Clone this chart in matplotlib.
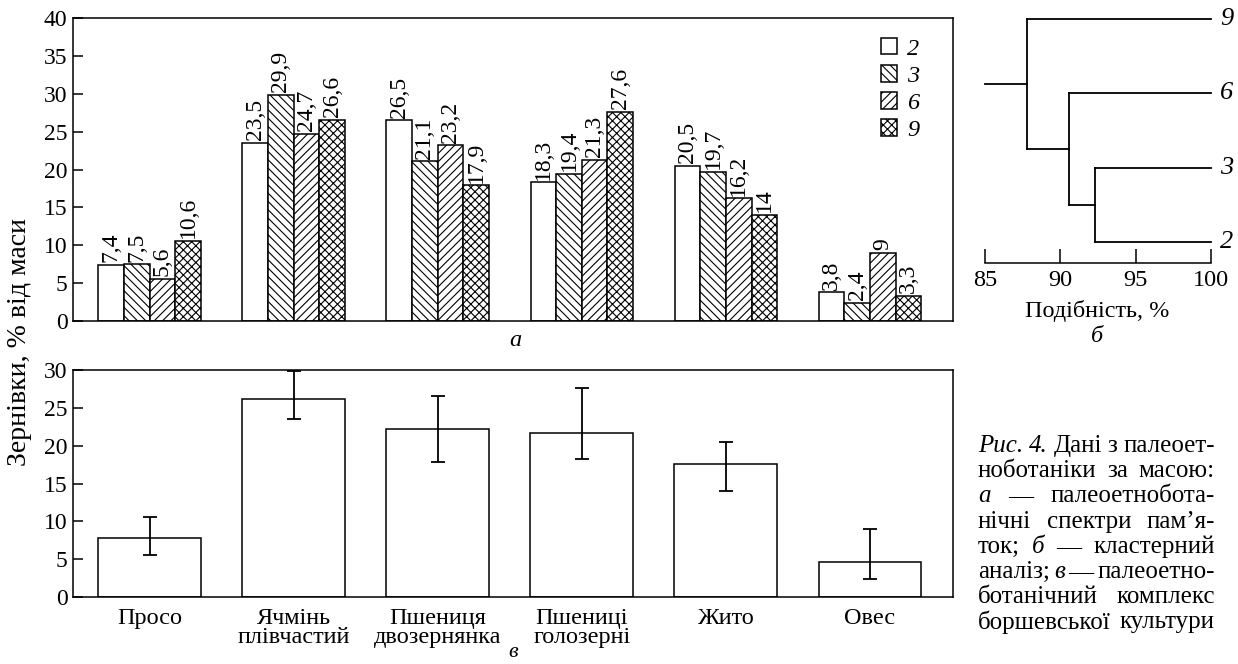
import numpy as np
import matplotlib
matplotlib.use('Agg')
import matplotlib.pyplot as plt

plt.rcParams['font.family'] = ['Liberation Serif', 'DejaVu Serif']
plt.rcParams['hatch.linewidth'] = 0.8
plt.rcParams['hatch.color'] = 'black'

crops = ['Просо', 'Ячмінь\nплівчастий', 'Пшениця\nдвозернянка',
         'Пшениці\nголозерні', 'Жито', 'Овес']
sites = ['2', '3', '6', '9']
s2 = [7.4, 23.5, 26.5, 18.3, 20.5, 3.8]
s3 = [7.5, 29.9, 21.1, 19.4, 19.7, 2.4]
s6 = [5.6, 24.7, 23.2, 21.3, 16.2, 9.0]
s9 = [10.6, 26.6, 17.9, 27.6, 14.0, 3.3]
hatches = ['', '\\\\\\\\', '////', 'xxxx']

mean_val = [7.8, 26.2, 22.2, 21.7, 17.6, 4.6]
min_val = [5.6, 23.5, 17.9, 18.3, 14.0, 2.4]
max_val = [10.6, 29.9, 26.5, 27.6, 20.5, 9.0]

leaves = ['9', '6', '3', '2']
# (left node, right node, similarity %)
merges = [('3', '2', 92.3), ('6', 'A', 90.6), ('9', 'B', 87.8)]

W, H = 1238, 664
fig = plt.figure(figsize=(W / 100, H / 100), dpi=100)

def box(l, t, r, b):
    return [l / W, 1 - b / H, (r - l) / W, (b - t) / H]

fs = 17.5
tfs = 17
lw = 1.1

# --- a ---
ax = fig.add_axes(box(73, 18, 953, 321))
x = np.arange(len(crops))
bw = 0.178
series = [s2, s3, s6, s9]
for k, vals in enumerate(series):
    pos = x + (k - 1.5) * bw
    bars = ax.bar(pos, vals, bw, color='white', edgecolor='black',
                  hatch=hatches[k], linewidth=lw, label=sites[k], zorder=2)
    for p, v in zip(pos, vals):
        ax.text(p, v + 0.35, f'{v:g}'.replace('.', ','), rotation=90,
                ha='center', va='bottom', fontsize=17)
ax.set_xlim(-0.531, 5.576)
ax.set_ylim(0, 40)
ax.set_yticks(range(0, 41, 5))
ax.set_xticks([])
ax.tick_params(axis='y', direction='in', length=7, width=lw, labelsize=tfs, pad=4)
for sp in ax.spines.values():
    sp.set_linewidth(lw)
leg = ax.legend(loc='upper left', bbox_to_anchor=(0.918, 0.935), frameon=False,
                fontsize=fs, handlelength=0.68, handleheight=0.68,
                handletextpad=0.4, labelspacing=0.22, borderpad=0, borderaxespad=0)
for t in leg.get_texts():
    t.set_fontstyle('italic')
fig.text(515 / W, 1 - 341 / H, 'а', style='italic', fontsize=fs, ha='center', va='center')

# --- в ---
ax2 = fig.add_axes(box(73, 370, 953, 597))
yerr = [np.array(mean_val) - np.array(min_val), np.array(max_val) - np.array(mean_val)]
ax2.bar(x, mean_val, 0.714, color='white', edgecolor='black', linewidth=lw,
        yerr=yerr, capsize=5, error_kw=dict(elinewidth=1.3, capthick=1.3, ecolor='black'))
ax2.set_xlim(-0.531, 5.576)
ax2.set_ylim(0, 30)
ax2.set_yticks(range(0, 31, 5))
ax2.set_xticks(x, crops)
ax2.tick_params(axis='y', direction='in', length=7, width=lw, labelsize=tfs, pad=4)
ax2.tick_params(axis='x', length=0, labelsize=fs, pad=8)
for t in ax2.get_xticklabels():
    t.set_linespacing(0.85)
for sp in ax2.spines.values():
    sp.set_linewidth(lw)
fig.text(513 / W, 2 / H, 'в', style='italic', fontsize=16, ha='center', va='bottom')

fig.text(20 / W, 1 - 342 / H, 'Зернівки, % від маси', rotation=90, fontsize=20,
         ha='center', va='center')

# --- б ---
ax3 = fig.add_axes(box(985, 10, 1211, 263))
ypos = {name: len(leaves) - 1 - i for i, name in enumerate(leaves)}
xpos = {name: 100.0 for name in leaves}
for n, (a, b, s) in enumerate(merges):
    for node in (a, b):
        ax3.plot([s, xpos[node]], [ypos[node]] * 2, color='black', lw=1.3, clip_on=False)
    ax3.plot([s, s], [ypos[a], ypos[b]], color='black', lw=1.3, clip_on=False)
    new = 'ABC'[n]
    xpos[new] = s
    ypos[new] = (ypos[a] + ypos[b]) / 2
ax3.plot([85, xpos['C']], [ypos['C']] * 2, color='black', lw=1.3, clip_on=False)
for name in leaves:
    ax3.text(100.6, ypos[name], name, style='italic', fontsize=19, va='center', ha='left')
ax3.set_xlim(85, 100)
ax3.set_ylim(-0.283, 3.12)
ax3.set_yticks([])
ax3.set_xticks([85, 90, 95, 100])
for side in ['top', 'right', 'left']:
    ax3.spines[side].set_visible(False)
ax3.spines['bottom'].set_linewidth(lw)
ax3.tick_params(axis='x', direction='in', length=10, width=lw, labelsize=fs, pad=5)
ax3.patch.set_visible(False)
fig.text(1097 / W, 1 - 311 / H, 'Подібність, %', fontsize=fs, ha='center', va='center')
fig.text(1097 / W, 1 - 337 / H, 'б', style='italic', fontsize=fs, ha='center', va='center')

# --- caption, justified ---
caption = [
    [('Рис.', 'italic'), ('4.', 'italic'), ('Дані', 'normal'), ('з', 'normal'), ('палеоет-', 'normal')],
    [('ноботаніки', 'normal'), ('за', 'normal'), ('масою:', 'normal')],
    [('а', 'italic'), ('—', 'normal'), ('палеоетнобота-', 'normal')],
    [('нічні', 'normal'), ('спектри', 'normal'), ('пам’я-', 'normal')],
    [('ток;', 'normal'), ('б', 'italic'), ('—', 'normal'), ('кластерний', 'normal')],
    [('аналіз;', 'normal'), ('в', 'italic'), ('—', 'normal'), ('палеоетно-', 'normal')],
    [('ботанічний', 'normal'), ('комплекс', 'normal')],
    [('боршевської', 'normal'), ('культури', 'normal')],
]
cap_l, cap_r = 978, 1215
r = fig.canvas.get_renderer()
for i, words in enumerate(caption):
    y = 1 - (446 + 25.2 * i) / H
    texts = [fig.text(0, y, w, style=s, fontsize=18, va='center', ha='left') for w, s in words]
    widths = [t.get_window_extent(r).width for t in texts]
    gap = max(2, (cap_r - cap_l - sum(widths)) / (len(texts) - 1))
    xx = cap_l
    for t, w in zip(texts, widths):
        t.set_x(xx / W)
        xx += w + gap

fig.savefig('out.png', dpi=100)
